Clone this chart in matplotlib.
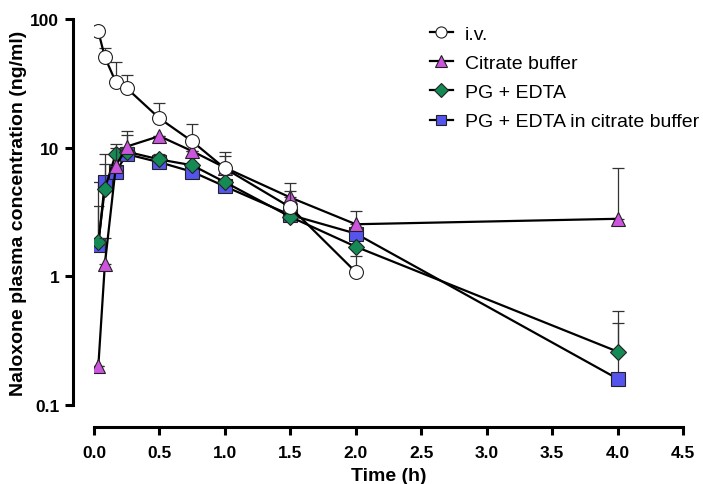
import matplotlib
matplotlib.use("Agg")
import matplotlib.pyplot as plt
import numpy as np

plt.rcParams['font.family'] = ['Liberation Sans', 'DejaVu Sans']

# Time points (h)
t_iv = [0.033, 0.083, 0.167, 0.25, 0.5, 0.75, 1.0, 1.5, 2.0]
t_oral = [0.033, 0.083, 0.167, 0.25, 0.5, 0.75, 1.0, 1.5, 2.0, 4.0]

# Mean concentrations (ng/ml)
iv_mean = [80, 50.5, 32.3, 29, 16.9, 11.2, 6.9, 3.44, 1.08]
iv_upper = [80, 60, 46, 36.5, 22.2, 15.2, 9.2, 4.6, 1.43]

citrate_mean = [0.2, 1.24, 7.2, 10.2, 12.3, 9.4, 7.0, 4.1, 2.54, 2.8]
citrate_upper = [0.2, 2.0, 10.6, 13.4, 12.3, 9.4, 8.6, 5.3, 3.2, 6.9]

pg_mean = [1.85, 4.8, 9.0, 9.3, 8.1, 7.3, 5.4, 2.9, 1.7, 0.26]
pg_upper = [3.5, 7.4, 10.0, 12.5, 8.9, 7.3, 5.4, 2.9, 1.7, 0.54]

pgc_mean = [1.75, 5.4, 6.5, 8.9, 7.7, 6.5, 5.0, 3.0, 2.15, 0.16]
pgc_upper = [5.4, 9.0, 6.5, 8.9, 7.7, 6.5, 5.0, 3.0, 2.15, 0.43]

labels = ["i.v.", "Citrate buffer", "PG + EDTA", "PG + EDTA in citrate buffer"]
x_ticks = [0.0, 0.5, 1.0, 1.5, 2.0, 2.5, 3.0, 3.5, 4.0, 4.5]
y_ticks = [0.1, 1, 10, 100]
y_tick_labels = ["0.1", "1", "10", "100"]

fig = plt.figure(figsize=(7.03, 4.85), dpi=100)
ax = fig.add_axes([94/703, 1-406/485, 589/703, 386/485])

series = [
    (t_iv, iv_mean, iv_upper, 'o', 'white', 6, labels[0], 10),
    (t_oral, citrate_mean, citrate_upper, '^', '#CC55DD', 5, labels[1], 10.5),
    (t_oral, pg_mean, pg_upper, 'D', '#168A55', 4, labels[2], 8.5),
    (t_oral, pgc_mean, pgc_upper, 's', '#5555EE', 3, labels[3], 9.5),
]

handles = {}
for t, m, u, mk, fc, z, lab, ms in series:
    m = np.array(m, dtype=float)
    u = np.array(u, dtype=float)
    upper = u - m
    ax.errorbar(t, m, yerr=[np.zeros_like(upper), upper], fmt='none',
                ecolor='#333333', elinewidth=0.9, capsize=4.3, capthick=0.9,
                zorder=z - 0.5)
    h, = ax.plot(t, m, color='black', lw=1.6, marker=mk, markersize=ms,
                 markerfacecolor=fc, markeredgecolor='#222222',
                 markeredgewidth=0.8, zorder=z, label=lab)
    handles[lab] = h

ax.set_yscale('log')
ax.set_xlim(0, 4.5)
ax.set_ylim(0.1, 100)
ax.set_xticks(x_ticks)
ax.set_xticklabels([f"{v:.1f}" for v in x_ticks])
ax.set_yticks(y_ticks)
ax.set_yticklabels(y_tick_labels)
ax.yaxis.set_minor_locator(matplotlib.ticker.NullLocator())

for s in ['top', 'right']:
    ax.spines[s].set_visible(False)
ax.spines['left'].set_position(('outward', 15.1))
ax.spines['bottom'].set_position(('outward', 15.8))
for s in ['left', 'bottom']:
    ax.spines[s].set_linewidth(2.2)
ax.tick_params(axis='both', which='major', width=2.2, length=6, labelsize=12.5)
ax.tick_params(axis='x', pad=7)
ax.tick_params(axis='y', pad=4)
for lbl in ax.get_xticklabels() + ax.get_yticklabels():
    lbl.set_fontweight('bold')

ax.set_xlabel("Time (h)", fontsize=14, fontweight='bold', labelpad=5)
ax.set_ylabel("Naloxone plasma concentration (ng/ml)", fontsize=14,
              fontweight='bold', labelpad=2)

ax.legend([handles[l] for l in labels], labels, loc='upper left',
          bbox_to_anchor=(0.54, 1.03), frameon=False, fontsize=14,
          handlelength=1.2, handletextpad=0.6, labelspacing=0.6,
          markerscale=0.8)

fig.savefig("out.png", dpi=100)
